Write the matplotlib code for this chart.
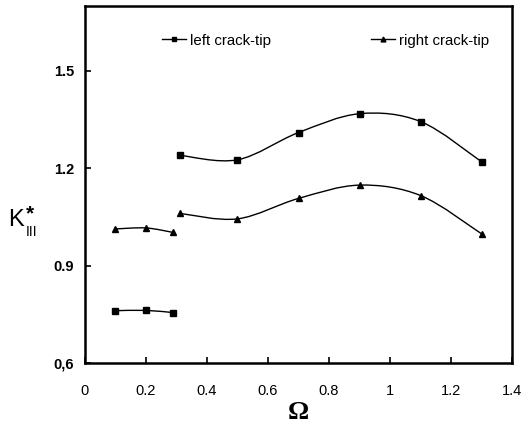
import numpy as np
import matplotlib
matplotlib.use('Agg')
import matplotlib.pyplot as plt
from matplotlib.path import Path
from matplotlib.patches import PathPatch

plt.rcParams['font.family'] = ['Liberation Sans', 'DejaVu Sans']

# left crack-tip, two pieces
leftX1 = [0.1, 0.2, 0.29]
leftY1 = [0.761, 0.762, 0.755]
leftX2 = [0.31, 0.5, 0.7, 0.9, 1.1, 1.3]
leftY2 = [1.240, 1.226, 1.310, 1.368, 1.344, 1.220]
# right crack-tip, two pieces
rightX1 = [0.1, 0.2, 0.29]
rightY1 = [1.013, 1.016, 1.002]
rightX2 = [0.31, 0.5, 0.7, 0.9, 1.1, 1.3]
rightY2 = [1.061, 1.044, 1.107, 1.148, 1.116, 0.998]

xTicks = [0, 0.2, 0.4, 0.6, 0.8, 1, 1.2, 1.4]
xTickLabels = ['0', '0.2', '0.4', '0.6', '0.8', '1', '1.2', '1.4']
yTicks = [0.6, 0.9, 1.2, 1.5]
yTickLabels = ['0,6', '0.9', '1.2', '1.5']


def smoothLine(ax, xs, ys):
    # excel-like smoothed line (catmull-rom as bezier)
    p = np.column_stack([xs, ys])
    pp = np.vstack([p[0], p, p[-1]])
    verts = [tuple(p[0])]
    codes = [Path.MOVETO]
    for i in range(1, len(pp) - 2):
        c1 = pp[i] + (pp[i + 1] - pp[i - 1]) / 6.0
        c2 = pp[i + 1] - (pp[i + 2] - pp[i]) / 6.0
        verts += [tuple(c1), tuple(c2), tuple(pp[i + 1])]
        codes += [Path.CURVE4] * 3
    ax.add_patch(PathPatch(Path(verts, codes), fill=False, lw=1.0, color='black'))


fig = plt.figure(figsize=(5.23, 4.28), dpi=100)
ax = fig.add_axes([0.1625, 0.152, 0.8165, 0.834])

for xs, ys in [(leftX1, leftY1), (leftX2, leftY2), (rightX1, rightY1), (rightX2, rightY2)]:
    smoothLine(ax, xs, ys)

ax.plot(leftX1, leftY1, ls='none', marker='s', ms=5, color='black')
ax.plot(leftX2, leftY2, ls='none', marker='s', ms=5, color='black')
ax.plot(rightX1, rightY1, ls='none', marker='^', ms=4.5, color='black')
ax.plot(rightX2, rightY2, ls='none', marker='^', ms=4.5, color='black')

# legend handles (smaller markers than in the plot)
h1, = ax.plot([], [], '-s', ms=3.5, lw=1, color='black')
h2, = ax.plot([], [], '-^', ms=3.5, lw=1, color='black')
leg1 = ax.legend([h1], ['left crack-tip'], loc='center left', bbox_to_anchor=(0.181, 0.903),
                 frameon=False, handlelength=1.6, handletextpad=0.25, fontsize=10.8,
                 borderpad=0, borderaxespad=0)
ax.add_artist(leg1)
ax.legend([h2], ['right crack-tip'], loc='center left', bbox_to_anchor=(0.67, 0.903),
          frameon=False, handlelength=1.6, handletextpad=0.25, fontsize=10.8,
          borderpad=0, borderaxespad=0)

ax.set_xlim(0, 1.4)
ax.set_ylim(0.6, 1.7)
ax.set_xticks(xTicks)
ax.set_xticklabels(xTickLabels, fontsize=10.5)
ax.set_yticks(yTicks)
ax.set_yticklabels(yTickLabels, fontsize=10.5, fontweight='bold')
ax.tick_params(direction='in', length=4, width=1.2, pad=8)
ax.tick_params(axis='x', pad=15)
for s in ax.spines.values():
    s.set_linewidth(1.8)

ax.set_xlabel('Ω', fontsize=19, family='Liberation Serif', fontweight='bold', labelpad=2)

# y label K*_III built from three pieces
fig.text(8 / 523, 1 - 226 / 428, 'K', fontsize=17, ha='left', va='baseline')
fig.text(26 / 523, 1 - 219 / 428, '*', fontsize=15, fontweight='bold', ha='left', va='baseline')
fig.text(26 / 523, 1 - 236 / 428, 'III', fontsize=10, ha='left', va='baseline')

fig.savefig('out.png', dpi=100)
